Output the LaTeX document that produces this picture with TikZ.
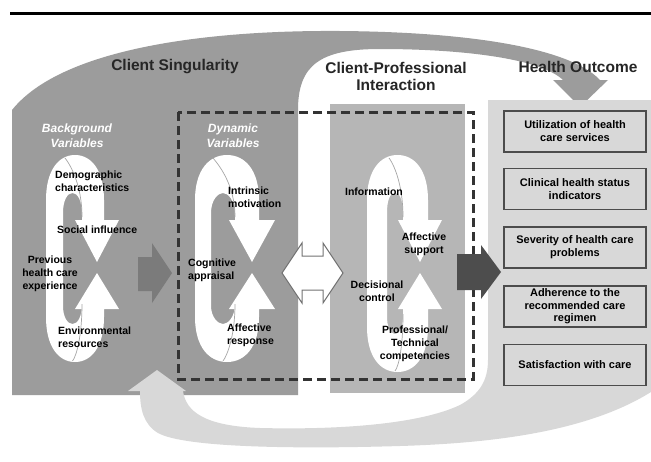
\documentclass[tikz,border=0pt]{standalone}
\usepackage{fontspec}
\setmainfont{Liberation Sans}
\definecolor{csgray}{HTML}{9C9C9C}
\definecolor{panelgray}{HTML}{B6B6B6}
\definecolor{hlight}{HTML}{D8D8D8}
\definecolor{arrowA}{HTML}{7B7B7B}
\definecolor{arrowB}{HTML}{4D4D4D}
\newcommand\twinloop[8]{%
 \fill[white] (#1,268) -- (#1,#6+45) .. controls (#1,#6+15) and ({#1+0.22*(#4-#1)},#6) .. ({(#1+#4)/2},#6) .. controls ({#4-0.22*(#4-#1)},#6) and (#4,#6+15) .. (#4,#6+45) -- (#4,220) -- (#5+#8,220) -- (#5,262) -- (#5-#8,220) -- (#3,220) -- (#3,#6+60) .. controls (#3,#6+45) and ({(#2+#3)/2+5},#6+38) .. ({(#2+#3)/2},#6+38) .. controls ({(#2+#3)/2-5},#6+38) and (#2,#6+45) .. (#2,#6+58) -- (#2,268) -- cycle;
 \fill[white] (#1,268) -- (#1,#7-45) .. controls (#1,#7-15) and ({#1+0.22*(#4-#1)},#7) .. ({(#1+#4)/2},#7) .. controls ({#4-0.22*(#4-#1)},#7) and (#4,#7-15) .. (#4,#7-45) -- (#4,309) -- (#5+#8,309) -- (#5,273) -- (#5-#8,309) -- (#3,309) -- (#3,#7-58) .. controls (#3,#7-45) and ({(#2+#3)/2+5},#7-38) .. ({(#2+#3)/2},#7-38) .. controls ({(#2+#3)/2-5},#7-38) and (#2,#7-45) .. (#2,#7-56) -- (#2,268) -- cycle;
 \draw[twist] (#3,#6+62) .. controls (#3,#6+28) and (#2+6,#6+8) .. (#2+2,#6+3);
 \draw[twist] (#3,#7-58) .. controls (#3,#7-26) and ({(#2+#3)/2+4},#7-6) .. ({(#2+#3)/2},#7-1);
}
\tikzset{
 title/.style={font=\bfseries\fontsize{15.5}{17}\selectfont, text=black!85, align=center, inner sep=0pt},
 lbl/.style={font=\bfseries\fontsize{10.5}{13}\selectfont, align=left, inner sep=0pt, anchor=west},
 lblc/.style={font=\bfseries\fontsize{10.5}{13}\selectfont, align=center, inner sep=0pt},
 varlbl/.style={font=\bfseries\itshape\fontsize{12}{15}\selectfont, text=white, align=center, inner sep=0pt},
 outbox/.style={draw=black!70, line width=1.3pt, fill=hlight, minimum width=142pt, minimum height=41pt, align=center, font=\bfseries\fontsize{11}{13}\selectfont, inner sep=0pt},
 twist/.style={draw=black!35, line width=0.7pt},
 dashbox/.style={draw=black!80, line width=3pt, dash pattern=on 9pt off 5pt},
}
\begin{document}
\begin{tikzpicture}[x=1pt,y=-1pt]
\useasboundingbox (0,0) rectangle (651,461);
\fill[white] (0,0) rectangle (651,461);
% top rule
\draw[line width=3pt] (10,13) -- (651,13);
% client singularity region with top arc
\fill[csgray] (12,395) -- (12,110) .. controls (60,50) and (200,30) .. (340,31) .. controls (470,32) and (570,48) .. (600,80) -- (608,80) -- (580,107) -- (553,80) -- (563,80) .. controls (540,58) and (460,49) .. (380,49) .. controls (320,49) and (298,65) .. (298,110) -- (298,395) -- cycle;
% interaction panel
\fill[panelgray] (330,104) rectangle (465,393);
% health outcome region with bottom arc
\fill[hlight] (488,100) -- (651,100) -- (651,392) .. controls (590,430) and (500,443) .. (400,446) .. controls (300,449) and (185,448) .. (158,433) .. controls (143,424) and (140,408) .. (140,391) -- (128,391) -- (157,370) -- (186,391) -- (183,391) .. controls (186,412) and (205,426) .. (260,428) .. controls (340,430) and (420,424) .. (460,405) .. controls (480,394) and (488,380) .. (488,360) -- cycle;
% loops
\twinloop{46}{63}{82}{104}{97}{155}{362}{22}
\twinloop{195}{211}{235}{259}{252}{155}{362}{23}
\twinloop{367}{387}{403}{428}{420}{155}{372}{22}
% dashed box
\draw[dashbox] (178,112) rectangle (473,379);
% arrows
\fill[arrowA] (138,257) -- (152,257) -- (152,243) -- (172,273) -- (152,303) -- (152,291) -- (138,291) -- cycle;
\filldraw[fill=white, draw=black!55, line width=1pt] (282,273) -- (302,243) -- (302,256) -- (323,256) -- (323,243) -- (343,273) -- (323,303) -- (323,290) -- (302,290) -- (302,303) -- cycle;
\fill[arrowB] (457,254) -- (481,254) -- (481,245) -- (501,272) -- (481,299) -- (481,290) -- (457,290) -- cycle;
% titles
\node[title] (t1) at (175,67) {Client Singularity};
\node[title] (t2) at (396,76) {Client-Professional\\Interaction};
\node[title] (t3) at (578,67) {Health Outcome};
\node[varlbl] (v1) at (77,136) {Background\\Variables};
\node[varlbl] (v2) at (233,136) {Dynamic\\Variables};
% labels
\node[lbl] (demo) at (55,181) {Demographic\\characteristics};
\node[lbl] (soc) at (57,230) {Social influence};
\node[lblc] (prev) at (50,274) {Previous\\health care\\experience};
\node[lbl] (env) at (58,337) {Environmental\\resources};
\node[lbl] (intr) at (228,197) {Intrinsic\\motivation};
\node[lbl] (cogn) at (188,270) {Cognitive\\appraisal};
\node[lbl] (affr) at (227,335) {Affective\\response};
\node[lblc] (info) at (374,192) {Information};
\node[lblc] (affs) at (424,244) {Affective\\support};
\node[lblc] (deci) at (377,291) {Decisional\\control};
\node[lblc] (prof) at (415,344) {Professional/\\Technical\\competencies};
% outcome boxes
\node[outbox] (o1) at (575,131.5) {Utilization of health\\care services};
\node[outbox] (o2) at (575,189) {Clinical health status\\indicators};
\node[outbox] (o3) at (575,247.5) {Severity of health care\\problems};
\node[outbox, font=\bfseries\fontsize{11}{12.5}\selectfont] (o4) at (575,306.5) {Adherence to the\\recommended care\\regimen};
\node[outbox] (o5) at (575,365) {Satisfaction with care};
\end{tikzpicture}
\end{document}
